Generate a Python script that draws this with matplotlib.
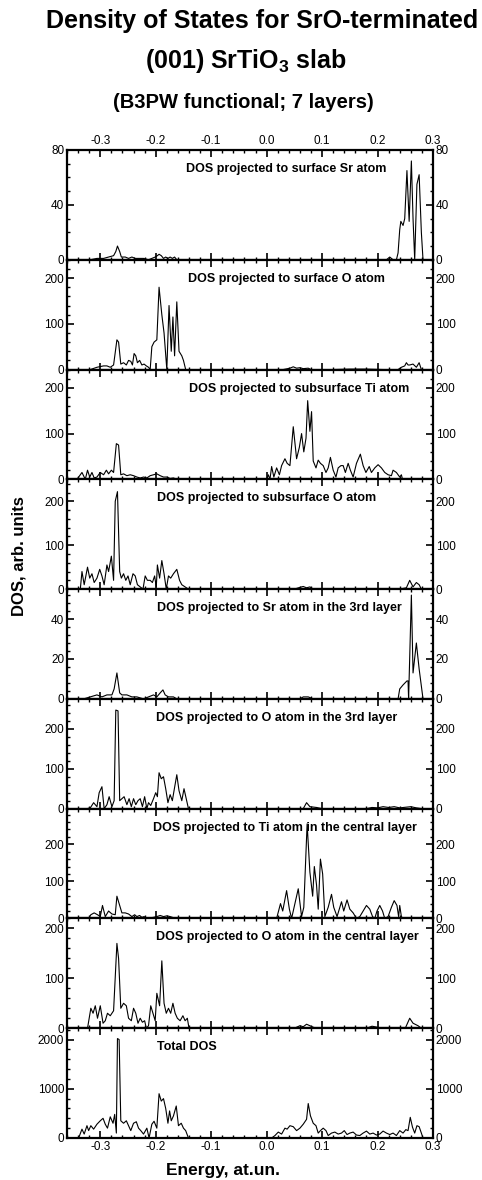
import matplotlib
matplotlib.use("Agg")
import matplotlib.pyplot as plt
from matplotlib.ticker import MultipleLocator, FormatStrFormatter

plt.rcParams['font.family'] = ['Liberation Sans', 'DejaVu Sans']
plt.rcParams['axes.unicode_minus'] = False
plt.rcParams['mathtext.fontset'] = 'custom'
plt.rcParams['mathtext.rm'] = 'Liberation Sans:bold'
plt.rcParams['mathtext.default'] = 'rm'

# (energy in at.un., DOS)
sr_surf = [(-0.336, 0), (-0.318, 0), (-0.306, 1), (-0.294, 1), (-0.285, 2), (-0.276, 3), (-0.272, 6),
           (-0.269, 10), (-0.265, 6), (-0.262, 2), (-0.255, 2), (-0.249, 1), (-0.243, 2), (-0.237, 1),
           (-0.231, 1), (-0.222, 1), (-0.213, 0), (-0.207, 1), (-0.201, 2), (-0.197, 3), (-0.194, 4),
           (-0.190, 3), (-0.186, 1), (-0.182, 2), (-0.178, 1), (-0.174, 2), (-0.170, 1), (-0.166, 2),
           (-0.162, 0), (0.0, 0), (0.216, 0), (0.222, 2), (0.228, 0), (0.234, 0), (0.237, 5), (0.240, 22),
           (0.242, 28), (0.246, 25), (0.249, 30), (0.253, 65), (0.257, 28), (0.261, 72), (0.264, 30),
           (0.267, 0), (0.271, 55), (0.275, 62), (0.279, 20), (0.282, 0)]

o_surf = [(-0.318, 0), (-0.306, 5), (-0.294, 8), (-0.288, 8), (-0.282, 5), (-0.276, 10), (-0.270, 65),
          (-0.267, 60), (-0.263, 12), (-0.258, 15), (-0.253, 10), (-0.249, 20), (-0.245, 18), (-0.242, 10),
          (-0.239, 35), (-0.236, 30), (-0.233, 15), (-0.229, 20), (-0.225, 10), (-0.221, 12), (-0.217, 8),
          (-0.213, 5), (-0.210, 0), (-0.207, 50), (-0.203, 60), (-0.198, 65), (-0.194, 180), (-0.189, 120),
          (-0.185, 80), (-0.180, 0), (-0.176, 140), (-0.172, 40), (-0.169, 115), (-0.166, 30), (-0.162, 148),
          (-0.158, 40), (-0.153, 30), (-0.150, 20), (-0.146, 0), (0.0, 0), (0.03, 0), (0.042, 3), (0.048, 6),
          (0.054, 3), (0.060, 4), (0.066, 2), (0.075, 3), (0.08, 0), (0.12, 0), (0.15, 1), (0.18, 1),
          (0.21, 0), (0.237, 0), (0.243, 5), (0.249, 8), (0.252, 15), (0.255, 10), (0.258, 10), (0.264, 12),
          (0.270, 5), (0.275, 15), (0.279, 0)]

ti_sub = [(-0.342, 0), (-0.333, 15), (-0.327, 0), (-0.323, 20), (-0.319, 5), (-0.315, 15), (-0.311, 3),
          (-0.306, 5), (-0.300, 15), (-0.294, 10), (-0.289, 20), (-0.285, 12), (-0.280, 20), (-0.276, 15),
          (-0.271, 78), (-0.267, 75), (-0.263, 10), (-0.258, 12), (-0.252, 8), (-0.246, 10), (-0.240, 8),
          (-0.234, 5), (-0.228, 3), (-0.222, 5), (-0.216, 3), (-0.210, 8), (-0.204, 10), (-0.198, 12),
          (-0.192, 8), (-0.186, 5), (-0.180, 5), (-0.174, 2), (-0.168, 3), (-0.162, 0), (0.0, 0), (0.003, 10),
          (0.006, 0), (0.009, 28), (0.013, 5), (0.018, 25), (0.023, 10), (0.027, 30), (0.033, 45), (0.037, 35),
          (0.042, 30), (0.048, 115), (0.054, 45), (0.059, 70), (0.063, 100), (0.067, 60), (0.071, 90),
          (0.074, 172), (0.078, 105), (0.081, 148), (0.084, 40), (0.089, 25), (0.093, 42), (0.097, 35),
          (0.102, 30), (0.107, 15), (0.111, 25), (0.115, 48), (0.120, 20), (0.125, 5), (0.129, 25),
          (0.134, 30), (0.138, 30), (0.142, 15), (0.147, 35), (0.151, 20), (0.156, 5), (0.162, 35),
          (0.169, 55), (0.174, 30), (0.179, 15), (0.185, 28), (0.189, 15), (0.195, 25), (0.201, 32),
          (0.207, 25), (0.213, 15), (0.219, 10), (0.225, 8), (0.228, 20), (0.234, 15), (0.240, 5),
          (0.243, 10), (0.245, 0)]

o_sub = [(-0.336, 0), (-0.333, 40), (-0.329, 10), (-0.323, 50), (-0.319, 25), (-0.315, 35), (-0.311, 15),
         (-0.306, 25), (-0.301, 45), (-0.297, 30), (-0.293, 10), (-0.288, 55), (-0.285, 40), (-0.280, 75),
         (-0.276, 20), (-0.273, 200), (-0.269, 222), (-0.265, 40), (-0.262, 25), (-0.258, 35), (-0.254, 20),
         (-0.250, 30), (-0.246, 10), (-0.241, 35), (-0.237, 30), (-0.233, 10), (-0.228, 5), (-0.223, 0),
         (-0.219, 30), (-0.215, 20), (-0.210, 20), (-0.206, 15), (-0.202, 30), (-0.199, 5), (-0.197, 55),
         (-0.193, 25), (-0.189, 65), (-0.185, 35), (-0.181, 0), (-0.177, 30), (-0.173, 25), (-0.168, 35),
         (-0.162, 45), (-0.157, 20), (-0.153, 10), (-0.147, 5), (-0.141, 0), (0.0, 0), (0.05, 0), (0.06, 4),
         (0.066, 6), (0.072, 3), (0.078, 5), (0.084, 0), (0.12, 0), (0.18, 1), (0.24, 0), (0.252, 3),
         (0.258, 20), (0.264, 5), (0.270, 15), (0.275, 10), (0.279, 0)]

sr_3rd = [(-0.330, 0), (-0.318, 1), (-0.306, 2), (-0.297, 1), (-0.288, 2), (-0.279, 2), (-0.275, 5),
          (-0.270, 13), (-0.265, 3), (-0.261, 2), (-0.252, 2), (-0.243, 1), (-0.234, 1), (-0.222, 0),
          (-0.204, 2), (-0.198, 1), (-0.192, 3), (-0.187, 4.5), (-0.183, 2), (-0.177, 1), (-0.168, 1),
          (-0.162, 0), (0.0, 0), (0.06, 0), (0.066, 1), (0.075, 1), (0.084, 0), (0.237, 0), (0.240, 5),
          (0.246, 7), (0.253, 9), (0.255, 9), (0.256, 0), (0.261, 52), (0.264, 13), (0.270, 28),
          (0.275, 15), (0.282, 0)]

o_3rd = [(-0.324, 0), (-0.318, 2), (-0.312, 15), (-0.306, 5), (-0.302, 40), (-0.297, 55), (-0.293, 0),
         (-0.288, 10), (-0.284, 30), (-0.279, 5), (-0.275, 20), (-0.272, 247), (-0.268, 245), (-0.265, 20),
         (-0.261, 25), (-0.257, 30), (-0.252, 10), (-0.248, 25), (-0.244, 5), (-0.240, 25), (-0.236, 10),
         (-0.232, 20), (-0.228, 25), (-0.224, 5), (-0.220, 30), (-0.216, 0), (-0.213, 15), (-0.209, 8),
         (-0.204, 25), (-0.200, 40), (-0.197, 30), (-0.194, 90), (-0.190, 75), (-0.186, 80), (-0.182, 50),
         (-0.178, 15), (-0.174, 35), (-0.170, 20), (-0.167, 45), (-0.162, 85), (-0.158, 45), (-0.153, 20),
         (-0.149, 50), (-0.145, 25), (-0.141, 0), (0.0, 0), (0.066, 0), (0.072, 15), (0.078, 5), (0.09, 3),
         (0.10, 0), (0.18, 0), (0.19, 3), (0.20, 2), (0.21, 5), (0.22, 3), (0.23, 5), (0.24, 2), (0.26, 5),
         (0.27, 2), (0.28, 0)]

ti_cen = [(-0.321, 0), (-0.317, 10), (-0.311, 15), (-0.305, 10), (-0.300, 5), (-0.296, 35), (-0.291, 5),
          (-0.285, 20), (-0.279, 12), (-0.273, 10), (-0.270, 60), (-0.266, 40), (-0.261, 15), (-0.255, 15),
          (-0.249, 12), (-0.243, 5), (-0.238, 10), (-0.234, 5), (-0.229, 8), (-0.225, 3), (-0.221, 5),
          (-0.216, 0), (-0.204, 3), (-0.198, 5), (-0.192, 8), (-0.186, 5), (-0.180, 7), (-0.174, 5),
          (-0.168, 2), (-0.162, 0), (0.0, 0), (0.018, 0), (0.025, 40), (0.029, 20), (0.036, 75), (0.041, 25),
          (0.045, 0), (0.051, 40), (0.057, 80), (0.063, 5), (0.067, 30), (0.073, 255), (0.078, 125),
          (0.083, 60), (0.086, 140), (0.090, 90), (0.093, 25), (0.097, 160), (0.101, 120), (0.105, 5),
          (0.111, 30), (0.117, 65), (0.121, 30), (0.127, 5), (0.135, 45), (0.139, 20), (0.145, 50),
          (0.150, 25), (0.156, 15), (0.162, 0), (0.168, 5), (0.174, 20), (0.180, 35), (0.186, 25),
          (0.191, 5), (0.195, 0), (0.199, 20), (0.204, 35), (0.209, 20), (0.213, 0), (0.219, 5), (0.225, 30),
          (0.230, 48), (0.235, 35), (0.238, 5), (0.240, 35), (0.243, 5), (0.246, 0)]

o_cen = [(-0.323, 0), (-0.317, 40), (-0.313, 30), (-0.309, 45), (-0.305, 20), (-0.300, 45), (-0.295, 10),
         (-0.291, 15), (-0.287, 30), (-0.282, 25), (-0.276, 35), (-0.270, 170), (-0.267, 140), (-0.263, 40),
         (-0.258, 50), (-0.253, 45), (-0.249, 20), (-0.244, 15), (-0.240, 40), (-0.236, 30), (-0.232, 10),
         (-0.228, 20), (-0.224, 12), (-0.220, 15), (-0.217, 0), (-0.213, 5), (-0.209, 45), (-0.205, 30),
         (-0.201, 15), (-0.198, 70), (-0.193, 45), (-0.189, 135), (-0.185, 50), (-0.181, 30), (-0.177, 40),
         (-0.173, 30), (-0.169, 50), (-0.165, 30), (-0.161, 20), (-0.156, 15), (-0.151, 25), (-0.147, 15),
         (-0.143, 20), (-0.140, 0), (0.0, 0), (0.05, 0), (0.06, 5), (0.066, 3), (0.072, 8), (0.078, 5),
         (0.084, 2), (0.09, 0), (0.18, 0), (0.19, 4), (0.20, 2), (0.21, 0), (0.25, 0), (0.258, 20),
         (0.264, 10), (0.273, 5), (0.279, 0)]

total = [(-0.339, 0), (-0.333, 180), (-0.329, 80), (-0.324, 250), (-0.321, 150), (-0.317, 250), (-0.312, 180),
         (-0.306, 280), (-0.300, 350), (-0.295, 400), (-0.291, 280), (-0.287, 200), (-0.282, 430),
         (-0.277, 300), (-0.274, 480), (-0.271, 100), (-0.269, 2020), (-0.266, 2000), (-0.263, 350),
         (-0.258, 300), (-0.253, 350), (-0.249, 250), (-0.245, 150), (-0.240, 300), (-0.235, 330),
         (-0.231, 200), (-0.227, 150), (-0.222, 80), (-0.216, 200), (-0.212, 0), (-0.207, 280), (-0.203, 340),
         (-0.198, 200), (-0.194, 900), (-0.190, 750), (-0.186, 800), (-0.182, 600), (-0.178, 300),
         (-0.175, 550), (-0.172, 350), (-0.168, 450), (-0.163, 650), (-0.159, 250), (-0.154, 300),
         (-0.150, 200), (-0.146, 150), (-0.141, 0), (0.0, 0), (0.009, 0), (0.015, 50), (0.021, 120),
         (0.027, 80), (0.033, 200), (0.037, 180), (0.042, 250), (0.048, 230), (0.054, 150), (0.060, 200),
         (0.066, 280), (0.072, 380), (0.075, 700), (0.079, 450), (0.084, 300), (0.089, 250), (0.093, 100),
         (0.097, 150), (0.102, 200), (0.107, 150), (0.111, 50), (0.117, 100), (0.123, 120), (0.129, 80),
         (0.135, 100), (0.140, 150), (0.145, 70), (0.150, 100), (0.156, 120), (0.162, 60), (0.168, 50),
         (0.174, 100), (0.180, 140), (0.186, 80), (0.192, 100), (0.198, 60), (0.204, 80), (0.210, 140),
         (0.216, 100), (0.222, 70), (0.228, 100), (0.234, 50), (0.240, 150), (0.246, 100), (0.251, 170),
         (0.255, 150), (0.259, 420), (0.263, 220), (0.267, 100), (0.271, 250), (0.275, 230), (0.279, 100),
         (0.282, 0)]

series = [sr_surf, o_surf, ti_sub, o_sub, sr_3rd, o_3rd, ti_cen, o_cen, total]
labels = ["DOS projected to surface Sr atom",
          "DOS projected to surface O atom",
          "DOS projected to subsurface Ti atom",
          "DOS projected to subsurface O atom",
          "DOS projected to Sr atom in the 3rd layer",
          "DOS projected to O atom in the 3rd layer",
          "DOS projected to Ti atom in the central layer",
          "DOS projected to O atom in the central layer",
          "Total DOS"]
ymax = [80, 240, 240, 250, 55, 275, 296, 220, 2230]
ymajor = [40, 100, 100, 100, 20, 100, 100, 100, 1000]
yminor = [10, 20, 20, 20, 4, 20, 20, 20, 200]
label_x = [0.325, 0.33, 0.333, 0.246, 0.246, 0.243, 0.235, 0.243, 0.246]

W, H = 482, 1180
fig = plt.figure(figsize=(W / 100, H / 100), dpi=100)

left, right = 67, 433
top, bottom = 150, 1138
ph = (bottom - top) / len(series)

for i, data in enumerate(series):
    y0 = top + i * ph
    ax = fig.add_axes([left / W, 1 - (y0 + ph) / H, (right - left) / W, ph / H])
    e = [p[0] for p in data]
    d = [p[1] for p in data]
    ax.plot(e, d, color='black', lw=0.8)
    ax.set_xlim(-0.36, 0.3)
    ax.set_ylim(0, ymax[i])
    ax.xaxis.set_major_locator(MultipleLocator(0.1))
    ax.xaxis.set_minor_locator(MultipleLocator(0.02))
    ax.xaxis.set_major_formatter(FormatStrFormatter('%.1f'))
    ax.yaxis.set_major_locator(MultipleLocator(ymajor[i]))
    ax.yaxis.set_minor_locator(MultipleLocator(yminor[i]))
    first = i == 0
    last = i == len(series) - 1
    ax.tick_params(which='both', direction='in', top=True, right=True, labelright=True,
                   labeltop=first, labelbottom=last, labelsize=8.5, pad=2)
    ax.tick_params(which='major', length=5, width=1.2)
    ax.tick_params(which='minor', length=2.5, width=1)
    for s in ax.spines.values():
        s.set_linewidth(1.6)
    ax.text(label_x[i], 1 - 19 / ph, labels[i], transform=ax.transAxes, ha='left', va='center',
            fontsize=9, fontweight='bold')

fig.text(262 / W, 1 - 21 / H, "Density of States for SrO-terminated", ha='center', va='center',
         fontsize=18, fontweight='bold')
fig.text(246 / W, 1 - 61 / H, "(001) SrTiO$_3$ slab", ha='center', va='center',
         fontsize=18, fontweight='bold')
fig.text(243 / W, 1 - 103 / H, "(B3PW functional; 7 layers)", ha='center', va='center',
         fontsize=14.5, fontweight='bold')
fig.text(19 / W, 1 - 556 / H, "DOS, arb. units", rotation=90, ha='center', va='center',
         fontsize=12, fontweight='bold')
fig.text(223 / W, 1 - 1171 / H, "Energy, at.un.", ha='center', va='center',
         fontsize=12.5, fontweight='bold')

fig.savefig("out.png", dpi=100)
